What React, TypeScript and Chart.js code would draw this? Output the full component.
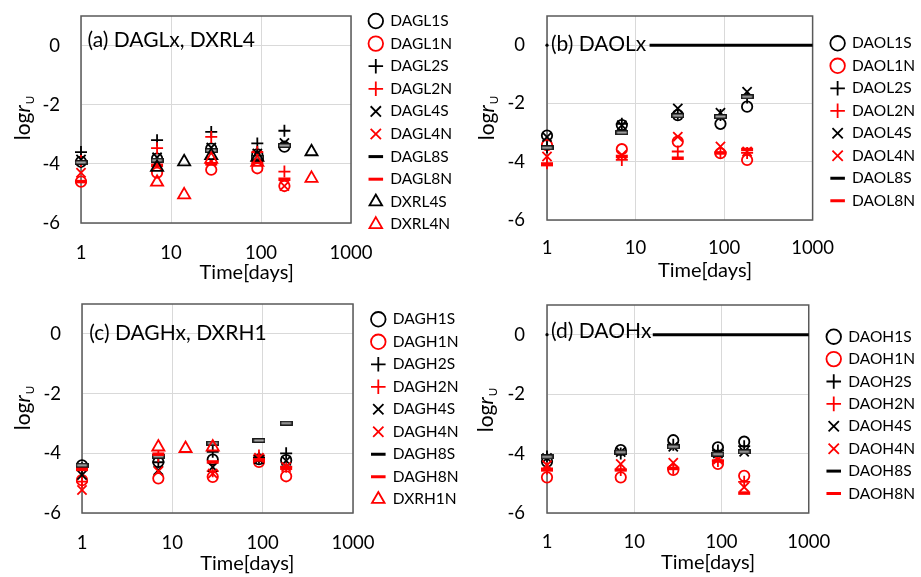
import React, { useEffect, useRef } from 'react';
import { Chart, registerables } from 'chart.js';

Chart.register(...registerables);

const FONT = 'Lato';
const BLACK = '#000000';
const RED = '#ff0000';

// ---- tick labels ----
const xTickValues = [1, 10, 100, 1000];
const xTickLabels = ['1', '10', '100', '1000'];
const yTickValues = [-6, -4, -2, 0];
const yTickLabels = ['-6', '-4', '-2', '0'];

// ---- panel (a) DAGLx, DXRL4 ----
const daysA = [1, 7, 28, 91, 182];
const DAGL1S = [-3.93, -3.82, -3.48, -3.68, -3.42];
const DAGL1N = [-4.6, -4.3, -4.2, -4.15, -4.75];
const DAGL2S = [-3.6, -3.2, -2.92, -3.31, -2.88];
const DAGL2N = [-3.9, -3.47, -3.09, -3.6, -4.26];
const DAGL4S = [-3.85, -3.78, -3.45, -3.65, -3.29];
const DAGL4N = [-4.3, -4.0, -3.9, -3.72, -4.75];
const DAGL8S = [-3.95, -3.88, -3.55, -3.78, -3.38];
const DAGL8N = [-4.6, -4.05, -4.0, -3.95, -4.52];
const daysXRL4 = [7, 14, 28, 91, 364];
const DXRL4S = [-4.12, -3.93, -3.72, -3.78, -3.59];
const DXRL4N = [-4.62, -5.05, -3.85, -3.95, -4.49];

// ---- panel (b) DAOLx ----
const daysB = [1, 7, 30, 91, 182];
const DAOL1S = [-3.1, -2.74, -2.4, -2.7, -2.11];
const DAOL1N = [-3.43, -3.57, -3.31, -3.71, -3.94];
const DAOL2S = [-3.5, -2.7, -2.35, -2.4, -1.8];
const DAOL2N = [-4.05, -3.94, -3.65, -3.68, -3.7];
const DAOL4S = [-3.15, -2.75, -2.17, -2.32, -1.6];
const DAOL4N = [-3.82, -3.77, -3.14, -3.48, -3.65];
const DAOL8S = [-3.52, -3.0, -2.42, -2.45, -1.77];
const DAOL8N = [-4.1, -3.82, -3.88, -3.7, -3.58];
const refB_X = [1, 14.4, 1000];
const refB_Y = [0, 0, 0];

// ---- panel (c) DAGHx, DXRH1 ----
const daysC = [1, 7, 28, 91, 182];
const DAGH1S = [-4.4, -4.29, -4.21, -4.2, -4.23];
const DAGH1N = [-4.9, -4.84, -4.79, -4.29, -4.77];
const DAGH2S = [-4.5, -4.3, -3.95, -4.15, -4.0];
const DAGH2N = [-4.95, -4.1, -4.6, -4.07, -4.45];
const DAGH4S = [-4.73, -4.57, -4.46, -4.2, -4.25];
const DAGH4N = [-5.23, -4.6, -4.68, -4.15, -4.46];
const DAGH8S = [-4.4, -4.1, -3.66, -3.57, -2.99];
const DAGH8N = [-4.54, -4.03, -4.29, -4.22, -4.5];
const daysXRH1 = [7, 14, 28];
const DXRH1N = [-3.79, -3.84, -3.79];

// ---- panel (d) DAOHx ----
const daysD = [1, 7, 28, 91, 182];
const DAOH1S = [-4.27, -3.88, -3.55, -3.79, -3.6];
const DAOH1N = [-4.8, -4.8, -4.55, -4.35, -4.75];
const DAOH2S = [-4.1, -4.0, -3.7, -3.9, -3.75];
const DAOH2N = [-4.5, -4.55, -4.5, -4.25, -4.95];
const DAOH4S = [-4.15, -3.95, -3.77, -4.0, -3.94];
const DAOH4N = [-4.39, -4.35, -4.31, -4.2, -5.13];
const DAOH8S = [-4.11, -3.95, -3.77, -4.02, -3.94];
const DAOH8N = [-4.55, -4.55, -4.5, -4.25, -5.33];
const refD_X = [1, 16.3, 1000];
const refD_Y = [0, 0, 0];

type Shape = 'circle' | 'cross' | 'crossRot' | 'line' | 'triangle';
const SHAPE_RADIUS: Record<Shape, number> = { circle: 5.2, cross: 6, crossRot: 6.5, line: 6, triangle: 7 };

// Excel-like "dash" marker for black series: grey-filled bar with dark outline
function makeDashImage(): HTMLCanvasElement {
  const c = document.createElement('canvas');
  c.width = 13;
  c.height = 5;
  const g = c.getContext('2d') as CanvasRenderingContext2D;
  g.fillStyle = '#a6a6a6';
  g.fillRect(0.75, 0.75, 11.5, 3.5);
  g.strokeStyle = '#111111';
  g.lineWidth = 1.4;
  g.strokeRect(0.75, 0.75, 11.5, 3.5);
  return c;
}
let dashImg: HTMLCanvasElement | null = null;
function getDashImg() {
  if (!dashImg) dashImg = makeDashImage();
  return dashImg;
}

function series(label: string, days: number[], vals: number[], shape: Shape, color: string) {
  const bw = shape === 'line' ? 3.5 : 1.8;
  const useImg = shape === 'line' && color === BLACK;
  return {
    label,
    data: days.map((d, i) => ({ x: d, y: vals[i] })),
    showLine: false,
    pointStyle: useImg ? getDashImg() : shape,
    legendStyle: shape,
    pointRadius: SHAPE_RADIUS[shape],
    pointHoverRadius: SHAPE_RADIUS[shape],
    pointBorderWidth: bw,
    borderWidth: bw,
    borderColor: color,
    pointBorderColor: color,
    backgroundColor: 'rgba(0,0,0,0)',
    pointBackgroundColor: 'rgba(0,0,0,0)',
    clip: false,
    xAxisID: 'x',
    yAxisID: 'y',
  };
}

function refLine(xs: number[], ys: number[]) {
  return {
    label: 'ref',
    isRef: true,
    data: xs.map((x, i) => ({ x, y: ys[i] })),
    showLine: true,
    borderColor: BLACK,
    borderWidth: 3,
    pointRadius: [1.6, 0, 0],
    pointBorderWidth: 0,
    pointBackgroundColor: BLACK,
    backgroundColor: BLACK,
    segment: { borderColor: (c: any) => (c.p0DataIndex === 0 ? 'rgba(0,0,0,0)' : BLACK) },
    clip: false,
    xAxisID: 'x',
    yAxisID: 'y',
  };
}

function datasetsA() {
  return [
    series('DAGL1S', daysA, DAGL1S, 'circle', BLACK),
    series('DAGL1N', daysA, DAGL1N, 'circle', RED),
    series('DAGL2S', daysA, DAGL2S, 'cross', BLACK),
    series('DAGL2N', daysA, DAGL2N, 'cross', RED),
    series('DAGL4S', daysA, DAGL4S, 'crossRot', BLACK),
    series('DAGL4N', daysA, DAGL4N, 'crossRot', RED),
    series('DAGL8S', daysA, DAGL8S, 'line', BLACK),
    series('DAGL8N', daysA, DAGL8N, 'line', RED),
    series('DXRL4S', daysXRL4, DXRL4S, 'triangle', BLACK),
    series('DXRL4N', daysXRL4, DXRL4N, 'triangle', RED),
  ];
}
function datasetsB() {
  return [
    series('DAOL1S', daysB, DAOL1S, 'circle', BLACK),
    series('DAOL1N', daysB, DAOL1N, 'circle', RED),
    series('DAOL2S', daysB, DAOL2S, 'cross', BLACK),
    series('DAOL2N', daysB, DAOL2N, 'cross', RED),
    series('DAOL4S', daysB, DAOL4S, 'crossRot', BLACK),
    series('DAOL4N', daysB, DAOL4N, 'crossRot', RED),
    series('DAOL8S', daysB, DAOL8S, 'line', BLACK),
    series('DAOL8N', daysB, DAOL8N, 'line', RED),
    refLine(refB_X, refB_Y),
  ];
}
function datasetsC() {
  return [
    series('DAGH1S', daysC, DAGH1S, 'circle', BLACK),
    series('DAGH1N', daysC, DAGH1N, 'circle', RED),
    series('DAGH2S', daysC, DAGH2S, 'cross', BLACK),
    series('DAGH2N', daysC, DAGH2N, 'cross', RED),
    series('DAGH4S', daysC, DAGH4S, 'crossRot', BLACK),
    series('DAGH4N', daysC, DAGH4N, 'crossRot', RED),
    series('DAGH8S', daysC, DAGH8S, 'line', BLACK),
    series('DAGH8N', daysC, DAGH8N, 'line', RED),
    series('DXRH1N', daysXRH1, DXRH1N, 'triangle', RED),
  ];
}
function datasetsD() {
  return [
    series('DAOH1S', daysD, DAOH1S, 'circle', BLACK),
    series('DAOH1N', daysD, DAOH1N, 'circle', RED),
    series('DAOH2S', daysD, DAOH2S, 'cross', BLACK),
    series('DAOH2N', daysD, DAOH2N, 'cross', RED),
    series('DAOH4S', daysD, DAOH4S, 'crossRot', BLACK),
    series('DAOH4N', daysD, DAOH4N, 'crossRot', RED),
    series('DAOH8S', daysD, DAOH8S, 'line', BLACK),
    series('DAOH8N', daysD, DAOH8N, 'line', RED),
    refLine(refD_X, refD_Y),
  ];
}

interface PanelCfg {
  x: number; y: number; w: number; h: number;
  left: number; right: number; top: number; bottom: number;
  yTickPad: number; xTickPad: number;
  legendCX: number; legendRow0: number; legendStep: number;
  title: string; titleX: number; titleY: number;
  xTitleX: number; xTitleY: number; yTitleX: number; yTitleY: number;
  makeDatasets: () => any[];
}

const PANELS: PanelCfg[] = [
  { x: 0, y: 0, w: 470, h: 290, left: 81, right: 351, top: 16, bottom: 223, yTickPad: 21, xTickPad: 18.9,
    legendCX: 375.8, legendRow0: 21, legendStep: 22.6, title: '(a) DAGLx, DXRL4', titleX: 87.5, titleY: 40,
    xTitleX: 246.7, xTitleY: 273, yTitleX: 22, yTitleY: 118, makeDatasets: datasetsA },
  { x: 470, y: 0, w: 451, h: 290, left: 77, right: 344, top: 16, bottom: 220, yTickPad: 22, xTickPad: 17.2,
    legendCX: 369, legendRow0: 43.3, legendStep: 22.5, title: '(b) DAOLx', titleX: 81, titleY: 44,
    xTitleX: 235, xTitleY: 271, yTitleX: 16, yTitleY: 118, makeDatasets: datasetsB },
  { x: 0, y: 290, w: 470, h: 287, left: 82, right: 353, top: 14, bottom: 223, yTickPad: 21, xTickPad: 18.9,
    legendCX: 378.3, legendRow0: 29.3, legendStep: 22.5, title: '(c) DAGHx, DXRH1', titleX: 89.3, titleY: 43.3,
    xTitleX: 247.3, xTitleY: 274, yTitleX: 22, yTitleY: 118, makeDatasets: datasetsC },
  { x: 470, y: 290, w: 451, h: 287, left: 77, right: 344, top: 15, bottom: 223, yTickPad: 22, xTickPad: 17.9,
    legendCX: 369, legendRow0: 46.7, legendStep: 22.4, title: '(d) DAOHx', titleX: 81, titleY: 41.7,
    xTitleX: 238, xTitleY: 272.5, yTitleX: 15, yTitleY: 120, makeDatasets: datasetsD },
];

const LEG_FONT = 15.5;
const BOX_W = 13.5;
const BOX_H = 10.3;
const TICK_FONT = 18.5;

function legendNaturalWidth(labels: string[], p: number): number {
  const c = document.createElement('canvas').getContext('2d') as CanvasRenderingContext2D;
  c.font = `${LEG_FONT}px ${FONT}`;
  const maxText = Math.max(...labels.map((l) => c.measureText(l).width));
  return p + BOX_W + LEG_FONT / 2 + maxText + 10;
}

function makeDecor(cfg: PanelCfg) {
  return {
    id: 'decor',
    beforeDatasetsDraw(chart: any) {
      const { ctx, chartArea: a } = chart;
      ctx.save();
      ctx.strokeStyle = '#595959';
      ctx.lineWidth = 1.5;
      ctx.strokeRect(a.left, a.top, a.right - a.left, a.bottom - a.top);
      ctx.restore();
    },
    afterDatasetsDraw(chart: any) {
      const { ctx } = chart;
      ctx.save();
      ctx.fillStyle = BLACK;
      ctx.font = `21px ${FONT}`;
      ctx.textBaseline = 'middle';
      ctx.textAlign = 'left';
      ctx.fillText(cfg.title, cfg.titleX, cfg.titleY);
      ctx.restore();
    },
    afterDraw(chart: any) {
      const { ctx } = chart;
      ctx.save();
      ctx.fillStyle = BLACK;
      ctx.font = `20px ${FONT}`;
      ctx.textBaseline = 'middle';
      ctx.textAlign = 'center';
      ctx.fillText('Time[days]', cfg.xTitleX, cfg.xTitleY);
      // y title: log r_U
      const f = 21;
      ctx.translate(cfg.yTitleX, cfg.yTitleY);
      ctx.rotate(-Math.PI / 2);
      ctx.textAlign = 'left';
      ctx.textBaseline = 'alphabetic';
      ctx.font = `${f}px ${FONT}`;
      const w1 = ctx.measureText('log').width;
      ctx.font = `italic ${f}px ${FONT}`;
      const w2 = ctx.measureText('r').width;
      ctx.font = `${f * 0.55}px ${FONT}`;
      const w3 = ctx.measureText('U').width;
      let x = -(w1 + w2 + w3 + 1) / 2;
      const by = f * 0.36;
      ctx.font = `${f}px ${FONT}`;
      ctx.fillText('log', x, by);
      x += w1;
      ctx.font = `italic ${f}px ${FONT}`;
      ctx.fillText('r', x, by);
      x += w2 + 1;
      ctx.font = `${f * 0.55}px ${FONT}`;
      ctx.fillText('U', x, by + f * 0.2);
      ctx.restore();
    },
  };
}

function buildConfig(cfg: PanelCfg): any {
  const p = cfg.legendStep - LEG_FONT;
  const legendLeft = cfg.legendCX - BOX_W / 2 - p;
  const gap = legendLeft - cfg.right;
  const raw = cfg.makeDatasets();
  const legW = legendNaturalWidth(raw.filter((d) => !d.isRef).map((d) => d.label), p) - 4;
  const padRight = Math.max(0, cfg.w - legendLeft - legW);
  const titleH = cfg.legendRow0 - p - LEG_FONT / 2;
  const n = raw.length;
  const datasets = raw.map((d, i) => ({ ...d, order: d.isRef ? n + 5 : n - i }));
  const defaultLabels = (Chart as any).defaults.plugins.legend.labels.generateLabels;
  return {
    type: 'scatter',
    data: { datasets },
    options: {
      responsive: false,
      maintainAspectRatio: false,
      animation: false,
      devicePixelRatio: 1,
      events: [],
      layout: { padding: { left: 0, top: 0, right: padRight, bottom: 0 }, autoPadding: false },
      scales: {
        x: {
          type: 'logarithmic',
          position: 'bottom',
          min: 1,
          max: 1000,
          afterBuildTicks: (s: any) => { s.ticks = xTickValues.map((v) => ({ value: v })); },
          afterFit: (s: any) => {
            s.height = cfg.h - cfg.bottom;
            s.paddingLeft = 0; s.paddingRight = 0; s.paddingTop = 0; s.paddingBottom = 0;
          },
          ticks: {
            callback: (_v: any, i: number) => xTickLabels[i],
            padding: cfg.xTickPad,
            font: { family: FONT, size: TICK_FONT, lineHeight: 1.2 },
            color: BLACK,
            maxRotation: 0,
            minRotation: 0,
            autoSkip: false,
          },
          grid: { color: '#d9d9d9', lineWidth: 1, drawTicks: false },
          border: { display: false },
        },
        y: {
          type: 'linear',
          position: 'left',
          min: -6,
          max: 1,
          afterBuildTicks: (s: any) => { s.ticks = yTickValues.map((v) => ({ value: v })); },
          afterFit: (s: any) => {
            s.width = cfg.left;
            s.paddingLeft = 0; s.paddingRight = 0; s.paddingTop = 0; s.paddingBottom = 0;
          },
          ticks: {
            callback: (_v: any, i: number) => yTickLabels[i],
            padding: cfg.yTickPad,
            font: { family: FONT, size: TICK_FONT, lineHeight: 1.2 },
            color: BLACK,
            autoSkip: false,
          },
          grid: { color: '#d9d9d9', lineWidth: 1, drawTicks: false },
          border: { display: false },
        },
        xTop: {
          type: 'linear',
          position: 'top',
          display: true,
          ticks: { display: false },
          grid: { display: false, drawTicks: false },
          border: { display: false },
          afterFit: (s: any) => {
            s.height = cfg.top;
            s.paddingLeft = 0; s.paddingRight = 0; s.paddingTop = 0; s.paddingBottom = 0;
          },
        },
        yRight: {
          type: 'linear',
          position: 'right',
          display: true,
          ticks: { display: false },
          grid: { display: false, drawTicks: false },
          border: { display: false },
          afterFit: (s: any) => {
            s.width = gap;
            s.paddingLeft = 0; s.paddingRight = 0; s.paddingTop = 0; s.paddingBottom = 0;
          },
        },
      },
      plugins: {
        tooltip: { enabled: false },
        legend: {
          display: true,
          position: 'right',
          align: 'start',
          fullSize: true,
          maxWidth: legW,
          title: { display: true, text: '', font: { size: 2, lineHeight: 1 }, padding: { top: titleH - 2, bottom: 0 } },
          labels: {
            usePointStyle: true,
            boxWidth: BOX_W,
            boxHeight: BOX_H,
            padding: p,
            color: BLACK,
            font: { family: FONT, size: LEG_FONT },
            generateLabels: (chart: any) =>
              defaultLabels(chart).map((item: any) => {
                const ds = chart.data.datasets[item.datasetIndex];
                if (ds.legendStyle === 'line') {
                  return { ...item, pointStyle: 'line', lineWidth: 3 };
                }
                return item;
              }),
            filter: (item: any, data: any) => !data.datasets[item.datasetIndex].isRef,
            sort: (a: any, b: any) => a.datasetIndex - b.datasetIndex,
          },
        },
      },
    },
    plugins: [makeDecor(cfg)],
  };
}

function Panel({ cfg }: { cfg: PanelCfg }) {
  const ref = useRef<HTMLCanvasElement>(null);
  useEffect(() => {
    const chart = new Chart(ref.current as HTMLCanvasElement, buildConfig(cfg));
    return () => chart.destroy();
  }, [cfg]);
  return (
    <canvas
      ref={ref}
      width={cfg.w}
      height={cfg.h}
      style={{ position: 'absolute', left: cfg.x, top: cfg.y, width: cfg.w, height: cfg.h }}
    />
  );
}

export default function App() {
  return (
    <div style={{ position: 'absolute', left: 0, top: 0, width: 921, height: 577, background: '#ffffff', overflow: 'hidden' }}>
      {PANELS.map((p, i) => (
        <Panel key={i} cfg={p} />
      ))}
    </div>
  );
}
